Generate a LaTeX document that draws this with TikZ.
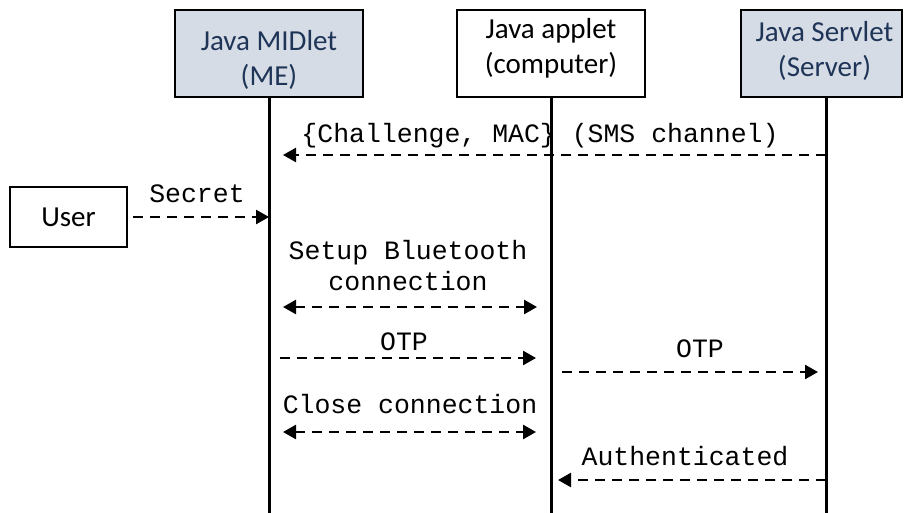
\documentclass[tikz,border=0pt]{standalone}
\usepackage{fontspec}
\newfontfamily\carlito{Carlito}
\newfontfamily\couriermono{Liberation Mono}
\usetikzlibrary{arrows.meta}
\definecolor{boxgrey}{HTML}{D6DCE5}
\definecolor{boxtext}{HTML}{1F3558}
\tikzset{
  actor/.style={draw, line width=1.5pt, minimum width=188pt, minimum height=87pt,
    inner sep=0pt},
  shaded/.style={actor, fill=boxgrey},
  actor text/.style={inner sep=0pt, align=center, font=\carlito\fontsize{29}{35}\selectfont},
  lifeline/.style={line width=3pt},
  msg/.style={line width=2.5pt, dash pattern=on 10pt off 7pt,
    -{Triangle[length=13pt,width=14pt]}},
  msgboth/.style={msg, {Triangle[length=13pt,width=14pt]}-{Triangle[length=13pt,width=14pt]}},
  lbl/.style={anchor=base, inner sep=0pt, align=center,
    font=\couriermono\fontsize{26.5}{31}\selectfont}
}
\begin{document}
\begin{tikzpicture}[x=1pt,y=-1pt]
\useasboundingbox (0,0) rectangle (904,513);

% the three actors and the user
\node[shaded] (midlet) at (269,53.5) {};
\node[actor text, text=boxtext] (midlet text) at ([yshift=-6pt]midlet.center) {Java MIDlet\\(ME)};
\node[actor] (applet) at (551,53.5) {};
\node[actor text] (applet text) at ([yshift=5pt]applet.center) {Java applet\\(computer)};
\node[shaded, minimum width=161pt] (servlet) at (821.5,53.5) {};
\node[actor text, text=boxtext] (servlet text) at ([xshift=3pt,yshift=3pt]servlet.center) {Java Servlet\\(Server)};
\node[actor, actor text, minimum width=117pt, minimum height=60pt] (user) at (68.5,217) {User};

% lifelines
\coordinate (me) at (midlet.south);
\coordinate (pc) at (applet.south);
\coordinate (sv) at ([xshift=4.5pt]servlet.south);
\coordinate (bottom) at (0,513);
\draw[lifeline] (me) -- (me |- bottom);
\draw[lifeline] (pc) -- (pc |- bottom);
\draw[lifeline] (sv) -- (sv |- bottom);

% message rows
\coordinate (chal) at (0,155);
\coordinate (bt) at (0,307);
\coordinate (otpa) at (0,358);
\coordinate (otpb) at (0,372);
\coordinate (close) at (0,432);
\coordinate (auth) at (0,480);

\draw[msg] (sv |- chal) -- ([xshift=14pt]me |- chal);
\node[lbl] (chal label) at (540,143) {\{Challenge, MAC\} (SMS channel)};

\draw[msg] ([xshift=5pt]user.east) -- (me |- user.east);
\node[lbl] (secret label) at (197,202) {Secret};

\draw[msgboth] ([xshift=14pt]me |- bt) -- ([xshift=-14pt]pc |- bt);
\node[lbl] (bt label) at (408,290) {Setup Bluetooth\\connection};

\draw[msg] ([xshift=11pt]me |- otpa) -- ([xshift=-15pt]pc |- otpa);
\node[lbl] (otpa label) at (404,350) {OTP};

\draw[msg] ([xshift=11pt]pc |- otpb) -- ([xshift=-8pt]sv |- otpb);
\node[lbl] (otpb label) at (700,357) {OTP};

\draw[msgboth] ([xshift=14pt]me |- close) -- ([xshift=-15pt]pc |- close);
\node[lbl] (close label) at (410,413) {Close connection};

\draw[msg] (sv |- auth) -- ([xshift=7pt]pc |- auth);
\node[lbl] (auth label) at (685,465) {Authenticated};
\end{tikzpicture}
\end{document}
